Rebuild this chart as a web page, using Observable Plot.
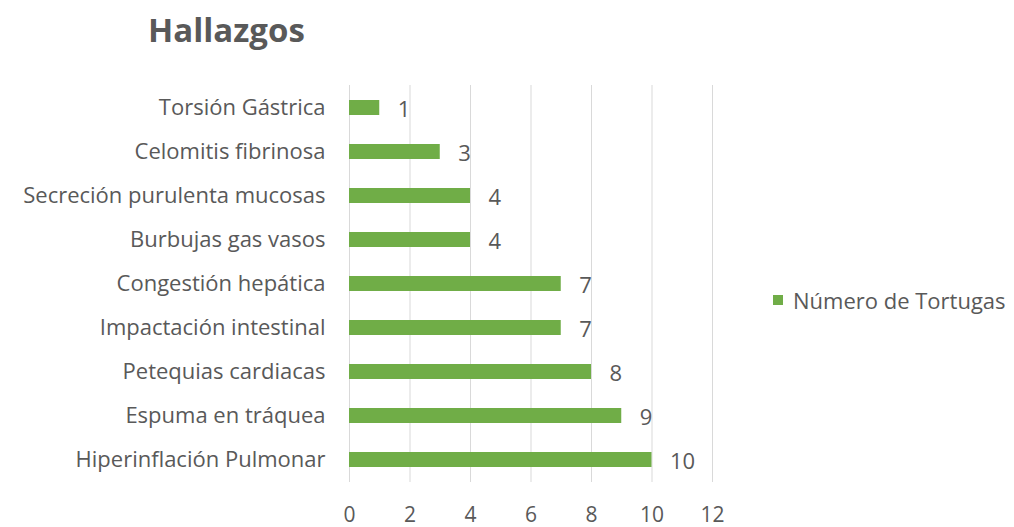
<!DOCTYPE html>
<html>
<head>
<meta charset="utf-8">
<script src="https://cdn.jsdelivr.net/npm/d3@7"></script>
<script src="https://cdn.jsdelivr.net/npm/@observablehq/plot@0.6"></script>
<style>
  body { margin: 0; background: #fff; font-family: "Open Sans", sans-serif; }
  #wrap { position: relative; width: 1014px; height: 527px; overflow: hidden; }
  #title { height: 60px; line-height: 60px; padding-left: 148px; font-size: 33px; font-weight: bold; color: #595959; box-sizing: border-box; }
  #legend { position: absolute; left: 773px; top: 285px; height: 30px; font-size: 22px; line-height: 30px; color: #595959; display: flex; align-items: center; }
  #legend span.sw { display: inline-block; width: 10px; height: 10px; background: #70AD47; margin-right: 10px; }
</style>
</head>
<body>
<div id="wrap">
  <div id="title">Hallazgos</div>
  <div id="chart"></div>
  <div id="legend"><span class="sw"></span><span id="legtext"></span></div>
</div>
<script>
const categories = [
  "Torsión Gástrica",
  "Celomitis fibrinosa",
  "Secreción purulenta mucosas",
  "Burbujas gas vasos",
  "Congestión hepática",
  "Impactación intestinal",
  "Petequias cardiacas",
  "Espuma en tráquea",
  "Hiperinflación Pulmonar"
];
const values = [1, 3, 4, 4, 7, 7, 8, 9, 10];
const xTicks = [0, 2, 4, 6, 8, 10, 12];
const seriesName = "Número de Tortugas";

const data = categories.map((c, i) => ({ cat: c, val: values[i] }));

const chart = Plot.plot({
  width: 1014,
  height: 467,
  marginLeft: 349,
  marginRight: 302,
  marginTop: 25,
  marginBottom: 45,
  style: { fontFamily: "Open Sans, sans-serif", fontSize: "22px", color: "#595959", background: "#fff" },
  x: { domain: [0, 12], ticks: xTicks, label: null },
  y: { domain: categories, paddingInner: 0.66, paddingOuter: 0.33, label: null },
  marks: [
    Plot.ruleX(xTicks, { stroke: "#d9d9d9", strokeOpacity: 1, strokeWidth: 1 }),
    Plot.barX(data, { y: "cat", x: "val", fill: "#70AD47" }),
    Plot.text(data, { y: "cat", x: "val", text: d => String(d.val), textAnchor: "start", dx: 18, dy: 2, fill: "#595959", fontSize: 22 }),
    Plot.axisX({ ticks: xTicks, tickSize: 0, tickPadding: 25, label: null, fontSize: 21, fill: "#595959" }),
    Plot.axisY({ tickSize: 0, tickPadding: 24, label: null, fontSize: 22, fill: "#595959" })
  ]
});
document.getElementById("chart").appendChild(chart);
document.getElementById("legtext").textContent = seriesName;
</script>
</body>
</html>
